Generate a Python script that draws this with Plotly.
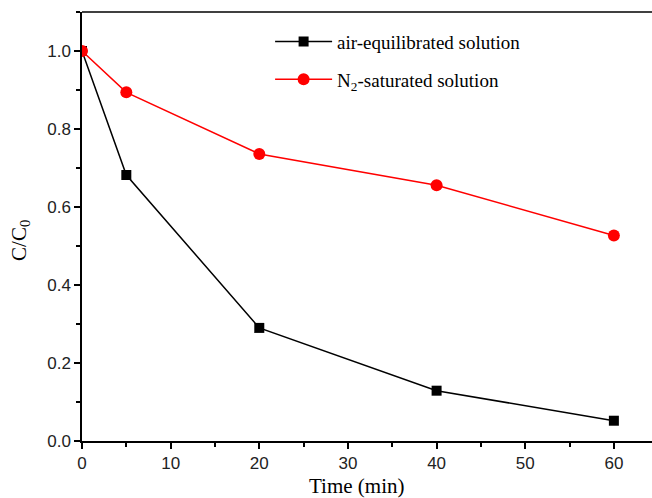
import plotly.graph_objects as go

time_min = [0, 5, 20, 40, 60]
air_eq = [1.0, 0.682, 0.29, 0.129, 0.052]
n2_sat = [1.0, 0.894, 0.736, 0.656, 0.527]

fig = go.Figure()
fig.add_trace(go.Scatter(
    x=time_min, y=air_eq, mode="lines+markers", name="air-equilibrated solution",
    legendgroup="a",
    line=dict(color="black", width=1.5),
    marker=dict(symbol="square", size=10, color="black")))
fig.add_trace(go.Scatter(
    x=time_min, y=n2_sat, mode="lines+markers", name="N<sub>2</sub>-saturated solution",
    legendgroup="b",
    line=dict(color="#ff0000", width=1.5),
    marker=dict(symbol="circle", size=12, color="#ff0000")))

axis_common = dict(
    showline=True, linecolor="black", linewidth=1.5,
    ticks="outside", ticklen=6, tickwidth=1.5, tickcolor="black",
    showgrid=False, zeroline=False,
    tickfont=dict(family="Liberation Sans, Arial", size=17, color="#222"),
)
fig.update_xaxes(
    range=[0, 64.3], dtick=10, tick0=0, mirror=False,
    minor=dict(dtick=5, ticks="outside", ticklen=4, tickwidth=1.5, tickcolor="black"),
    **axis_common)
fig.update_yaxes(
    range=[0, 1.1], dtick=0.2, tick0=0, tickformat=".1f",
    minor=dict(dtick=0.1, ticks="outside", ticklen=4, tickwidth=1.5, tickcolor="black"),
    **axis_common)

title_font = dict(family="Liberation Serif, Times New Roman", size=21, color="black")
fig.add_annotation(text="Time (min)", xref="paper", yref="paper", x=0.481, y=-0.105,
                   xanchor="center", yanchor="middle", showarrow=False, font=title_font)
fig.add_annotation(text="C/C<sub>0</sub>", xref="paper", yref="paper", x=-0.109, y=0.4685,
                   xanchor="center", yanchor="middle", textangle=-90, showarrow=False,
                   font=title_font)

# top frame line
fig.add_shape(type="line", xref="paper", yref="paper", x0=0, x1=1, y0=1, y1=1,
              line=dict(color="black", width=1.5))

fig.update_layout(
    width=652, height=498,
    margin=dict(l=82, r=0, t=12, b=57),
    plot_bgcolor="white", paper_bgcolor="white",
    showlegend=True,
    legend=dict(x=0.33, y=0.975, xanchor="left", yanchor="top",
                bgcolor="rgba(0,0,0,0)", itemwidth=57, tracegroupgap=10,
                font=dict(family="Liberation Serif, Times New Roman", size=19, color="black")),
)
fig.write_html("out.html")
